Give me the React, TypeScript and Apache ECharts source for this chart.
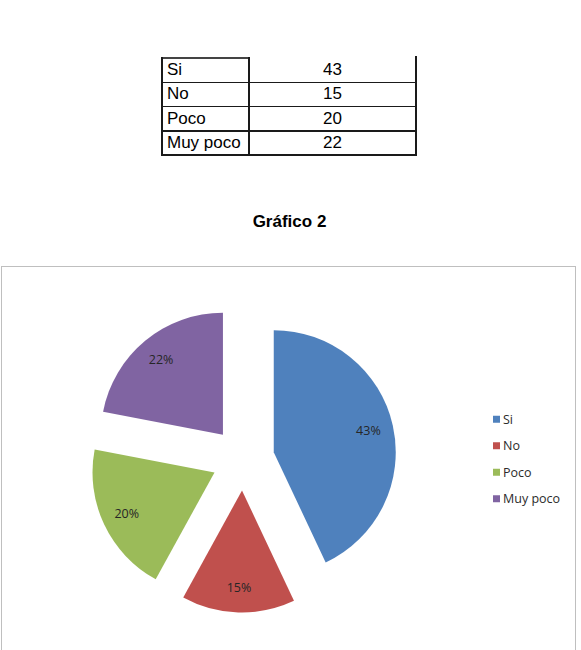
import React, { useEffect, useRef } from "react";
import * as echarts from "echarts";

const categories = ["Si", "No", "Poco", "Muy poco"];
const values = [43, 15, 20, 22];
const colors = ["#4F81BD", "#C0504D", "#9BBB59", "#8064A2"];
const chartTitle = "Gráfico 2";

const TABLE_LEFT = 162;
const TABLE_MID = 249;
const TABLE_RIGHT = 416;
const TABLE_TOP = 58;
const ROW_H = 24.25;
const LINE = "#1a1a1a";

function Table() {
  const n = categories.length;
  const bottom = TABLE_TOP + ROW_H * n;
  const els: React.ReactNode[] = [];
  els.push(
    <div key="h-top" style={{ position: "absolute", left: TABLE_LEFT, top: TABLE_TOP - 0.75, width: TABLE_MID - TABLE_LEFT, height: 1.5, background: "#444" }} />
  );
  for (let i = 1; i <= n; i++) {
    els.push(
      <div key={"h" + i} style={{ position: "absolute", left: TABLE_LEFT, top: TABLE_TOP + ROW_H * i - 0.75, width: TABLE_RIGHT - TABLE_LEFT, height: 1.5, background: LINE }} />
    );
  }
  els.push(<div key="v1" style={{ position: "absolute", left: TABLE_LEFT - 0.75, top: TABLE_TOP - 0.75, width: 1.5, height: bottom - TABLE_TOP + 1.5, background: LINE }} />);
  els.push(<div key="v2" style={{ position: "absolute", left: TABLE_MID - 0.75, top: TABLE_TOP - 0.75, width: 1.5, height: bottom - TABLE_TOP + 1.5, background: LINE }} />);
  els.push(<div key="v3" style={{ position: "absolute", left: TABLE_RIGHT - 0.75, top: TABLE_TOP - 2, width: 1.5, height: bottom - TABLE_TOP + 2.75, background: LINE }} />);
  categories.forEach((c, i) => {
    const top = TABLE_TOP + ROW_H * i;
    els.push(
      <div key={"c" + i} style={{ position: "absolute", left: TABLE_LEFT + 5, top, height: ROW_H, lineHeight: ROW_H + "px", fontFamily: "'Liberation Sans', Arial, sans-serif", fontSize: 17, color: "#000", whiteSpace: "nowrap" }}>{c}</div>
    );
    els.push(
      <div key={"v" + i} style={{ position: "absolute", left: TABLE_MID, width: TABLE_RIGHT - TABLE_MID, top, height: ROW_H, lineHeight: ROW_H + "px", textAlign: "center", fontFamily: "'Liberation Sans', Arial, sans-serif", fontSize: 17, color: "#000" }}>{values[i]}</div>
    );
  });
  return <>{els}</>;
}

export default function App() {
  const ref = useRef<HTMLDivElement>(null);
  useEffect(() => {
    document.body.style.margin = "0";
    if (!ref.current) return;
    const chart = echarts.init(ref.current, null, { renderer: "svg" });
    const data = categories.map((name, i) => ({ name, value: values[i], selected: true, itemStyle: { color: colors[i] } }));
    chart.setOption({
      animation: false,
      backgroundColor: "transparent",
      legend: {
        orient: "vertical",
        left: 488,
        top: 407,
        icon: "rect",
        itemWidth: 7,
        itemHeight: 7,
        itemGap: 12,
        data: categories,
        textStyle: { fontFamily: "'Open Sans', sans-serif", fontSize: 12.5, color: "#2b2b2b", padding: [0, 0, 0, -2], lineHeight: 14.5 },
      },
      series: [
        {
          type: "pie",
          center: [243, 459],
          radius: 122,
          startAngle: 90,
          clockwise: true,
          selectedMode: "multiple",
          selectedOffset: 31.5,
          label: { show: false },
          labelLine: { show: false },
          data,
          silent: true,
        },
        {
          type: "pie",
          center: [243, 459],
          radius: 188,
          startAngle: 90,
          clockwise: true,
          selectedMode: "multiple",
          selectedOffset: 31.5,
          percentPrecision: 0,
          label: {
            show: true,
            position: "inside",
            formatter: "{d}%",
            fontFamily: "'Open Sans', sans-serif",
            fontSize: 12.5,
            color: "#262626",
          },
          labelLine: { show: false },
          itemStyle: { color: "rgba(0,0,0,0)" },
          data: categories.map((name, i) => ({ name, value: values[i], selected: true, itemStyle: { color: "rgba(0,0,0,0)" } })),
          silent: true,
          legendHoverLink: false,
        },
      ],
    });
    return () => chart.dispose();
  }, []);
  return (
    <div style={{ position: "relative", width: 581, height: 650, background: "#fff", overflow: "hidden" }}>
      <Table />
      <div style={{ position: "absolute", left: 0, width: 579, top: 212, textAlign: "center", fontFamily: "'Liberation Sans', Arial, sans-serif", fontWeight: "bold", fontSize: 17, lineHeight: "20px", color: "#000" }}>{chartTitle}</div>
      <div style={{ position: "absolute", left: 1, top: 266, width: 575, height: 400, border: "1px solid #bfbfbf", boxSizing: "border-box" }} />
      <div ref={ref} style={{ position: "absolute", left: 0, top: 0, width: 581, height: 650 }} />
    </div>
  );
}
